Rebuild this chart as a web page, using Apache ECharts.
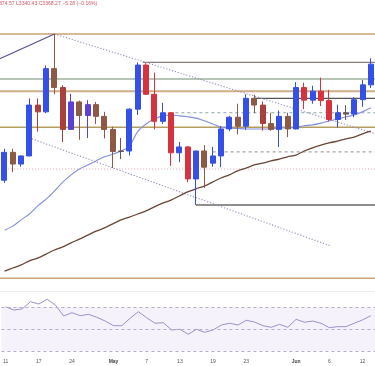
<!DOCTYPE html>
<html><head><meta charset="utf-8">
<script src="https://cdn.jsdelivr.net/npm/echarts@6/dist/echarts.min.js"></script>
<style>html,body{margin:0;padding:0;background:#fff}#c{width:375px;height:366px}</style>
</head><body><div id="c"></div>
<script>
// ---- data ----
const dates = ['Apr 11','Apr 14','Apr 15','Apr 16','Apr 17','Apr 21','Apr 22','Apr 23','Apr 24','Apr 25','Apr 28','Apr 29','Apr 30',
  'May 1','May 2','May 5','May 6','May 7','May 8','May 9','May 12','May 13','May 14','May 15','May 16','May 19','May 20','May 21','May 22','May 23','May 26','May 27','May 28','May 29','May 30',
  'Jun 2','Jun 3','Jun 4','Jun 5','Jun 6','Jun 9','Jun 10','Jun 11','Jun 12','Jun 13'];
const opens  = [3175,3237,3211,3229,3342,3327,3423,3381,3288,3349,3319,3343,3317,3288,3239,3240,3333,3431,3366,3306,3325,3236,3249,3178,3240,3213,3229,3289,3315,3295,3357,3342,3301,3288,3317,3289,3381,3353,3373,3352,3310,3325,3322,3354,3387];
const closes = [3237,3211,3229,3342,3327,3423,3381,3288,3349,3319,3343,3317,3288,3239,3240,3333,3431,3366,3306,3325,3236,3249,3178,3240,3204,3229,3289,3315,3295,3357,3342,3301,3288,3317,3289,3381,3353,3373,3352,3310,3325,3322,3354,3387,3433];
const highs  = [3245,3245,3230,3357,3357,3430,3500,3386,3367,3352,3353,3349,3327,3294,3269,3335,3437,3435,3414,3347,3325,3260,3251,3241,3253,3249,3295,3318,3345,3366,3365,3350,3325,3330,3325,3393,3392,3385,3403,3376,3343,3342,3360,3398,3446];
const lows   = [3169,3193,3205,3228,3283,3324,3366,3260,3287,3265,3269,3300,3268,3202,3222,3230,3320,3365,3288,3300,3207,3215,3171,3120,3158,3205,3204,3284,3277,3287,3324,3285,3285,3249,3271,3288,3333,3345,3340,3306,3292,3309,3315,3338,3380];
const maFast = [3064,3073,3087,3100,3118,3133,3151,3171,3187,3200,3209,3218,3227,3233,3240,3251,3283,3300,3311,3318,3320,3318,3316,3313,3307,3300,3293,3291,3290,3289,3289,3289,3289,3291,3291,3293,3296,3298,3302,3307,3311,3316,3320,3327,3336];
const maSlow = [2973,2980,2987,2996,3002,3011,3020,3027,3036,3044,3053,3062,3069,3078,3087,3093,3100,3107,3116,3124,3131,3140,3149,3156,3162,3171,3180,3187,3196,3202,3209,3213,3218,3222,3227,3231,3240,3247,3253,3258,3262,3267,3271,3278,3284];
const rsi = [70.5,67.5,68.5,75.1,73,77.3,72.1,62.1,65.1,62.4,63.6,60.9,57.5,53.3,53.3,60,66,60.5,55.5,56,49.4,50,45.5,50,47.3,49.4,53.9,55.5,53.9,58.2,56.6,53.3,51.8,54.5,51.8,59.1,56.4,57.5,55.5,51.5,52.4,52.4,55.5,58.5,62.4];
const rsiLevels = [70, 50, 30];
const tickIndices = [0,4,8,13,17,21,25,29,35,39,43];
const tickLabels = ['11','17','24','May','7','13','19','23','Jun','6','12'];
// horizontal levels: price and first candle index where they begin
const levelPrices = [3500, 3437, 3400, 3373, 3357, 3325, 3293, 3238, 3200, 3120, 2957];
const levelStarts = [-1, 16.6, -1, -1, 30, 19.8, -1, 25, -1, 23, -1];
// trend lines in [candle index, price]
const trendLines = [
  [[-0.8, 3443], [6, 3500]],
  [[6, 3500], [44.6, 3278]],
  [[3.3, 3267], [39.2, 3029]]
];
const header = '374.57 L3340.43 C3368.27 \u22125.28 (\u22120.16%)';

// ---- styles ----
const tones = {u:'#3550e6', d:'#d6333f', b:'#8c5a45', p:'#5b3fd6', r:'#a8403d', k:'#6a5555'};
const candleTone = ['u','b','u','u','r','u','b','r','p','b','p','b','b','b','k','u','u','d','d','u','d','u','d','u','b','u','u','u','b','u','b','r','b','u','b','u','d','u','d','d','u','k','u','u','u'];
const levelStyle = [
  {c:'#c9a372', w:1.5}, {c:'#8b7d78', w:1.2}, {c:'#6f8c6c', w:1.2}, {c:'#cfad84', w:2},
  {c:'#555555', w:1.2}, {c:'#8ea5a6', w:1, t:[3,3]}, {c:'#b39e5f', w:1.5}, {c:'#909090', w:1, t:[3,3]},
  {c:'#e3a2b7', w:1, t:[1,2]}, {c:'#6a6a6a', w:1.5}, {c:'#c9a372', w:1.5}
];
const trendStyle = [
  {c:'#5b4e9c', w:1.2, t:'solid'}, {c:'#958dba', w:1.1, t:[1.2,1.8]}, {c:'#958dba', w:1.1, t:[1.2,1.8]}
];

const chart = echarts.init(document.getElementById('c'), null, {renderer:'canvas'});
const N = dates.length;
const GL = 0.32, GW = N * 8.36;

const candleData = dates.map((d, i) => {
  const col = tones[candleTone[i]];
  return {value:[opens[i], closes[i], lows[i], highs[i]],
    itemStyle:{color:col, color0:col, borderColor:col, borderColor0:col, borderWidth:1}};
});

const series = [];
levelPrices.forEach((p, k) => {
  const s = levelStyle[k];
  series.push({type:'line', xAxisIndex:2, yAxisIndex:0, silent:true, symbol:'none', z:1,
    data:[[levelStarts[k], p], [N + 1, p]],
    lineStyle:{color:s.c, width:s.w, type:s.t || 'solid'}});
});
trendLines.forEach((ln, k) => {
  const s = trendStyle[k];
  series.push({type:'line', xAxisIndex:2, yAxisIndex:0, silent:true, symbol:'none', z:2,
    data:ln, lineStyle:{color:s.c, width:s.w, type:s.t}});
});
series.push({type:'line', xAxisIndex:2, yAxisIndex:0, silent:true, symbol:'none', z:3,
  data:maFast.map((v,i)=>[i,v]), smooth:0.3, lineStyle:{color:'#8490de', width:1.1}});
series.push({type:'line', xAxisIndex:2, yAxisIndex:0, silent:true, symbol:'none', z:3,
  data:maSlow.map((v,i)=>[i,v]), smooth:0.3, lineStyle:{color:'#6b4636', width:1.3}});
series.push({type:'candlestick', xAxisIndex:0, yAxisIndex:0, barWidth:5.5, z:5, data:candleData});
series.push({type:'line', xAxisIndex:3, yAxisIndex:1, silent:true, symbol:'none', z:3,
  data:rsi.map((v,i)=>[i,v]), lineStyle:{color:'#9d90cc', width:1},
  markArea:{silent:true, itemStyle:{color:'rgba(140,110,210,0.09)'}, data:[[{yAxis:rsiLevels[2]},{yAxis:rsiLevels[0]}]]},
  markLine:{silent:true, symbol:'none', label:{show:false},
    lineStyle:{color:'#b5adc9', width:1, type:[3,3]},
    data:rsiLevels.map(v=>({yAxis:v}))}
});

chart.setOption({
  animation:false,
  backgroundColor:'#ffffff',
  grid:[
    {left:GL, width:GW, top:16, height:274},
    {left:GL, width:GW, top:291.9, height:63.8}
  ],
  xAxis:[
    {type:'category', gridIndex:0, data:dates, boundaryGap:true, show:false},
    {type:'category', gridIndex:1, data:dates, boundaryGap:true,
      axisLine:{show:false}, axisTick:{show:false}, splitLine:{show:false},
      axisLabel:{show:true, margin:3, fontSize:5, color:'#555', fontFamily:'Liberation Sans',
        interval:(idx)=>tickIndices.includes(idx),
        formatter:(v, idx)=>{
          const k = tickIndices.indexOf(idx);
          if (k < 0) return '';
          const t = tickLabels[k];
          return /^[A-Za-z]/.test(t) ? '{b|' + t + '}' : t;
        },
        rich:{b:{fontWeight:'bold', fontSize:5, color:'#444', fontFamily:'Liberation Sans'}}}},
    {type:'value', gridIndex:0, min:-0.5, max:N-0.5, show:false},
    {type:'value', gridIndex:1, min:-0.5, max:N-0.5, show:false}
  ],
  yAxis:[
    {type:'value', gridIndex:0, min:2931.1, max:3540, show:false, splitLine:{show:false}},
    {type:'value', gridIndex:1, min:26, max:84, show:false, splitLine:{show:false}}
  ],
  graphic:[
    {type:'line', shape:{x1:0, y1:291.5, x2:375, y2:291.5}, style:{stroke:'#ececec', lineWidth:1}, silent:true},
    {type:'text', left:-1, top:1.5, style:{text:header, fontSize:5.1, fill:'#d9566a', fontFamily:'Liberation Sans'}}
  ],
  series:series
});
</script></body></html>
